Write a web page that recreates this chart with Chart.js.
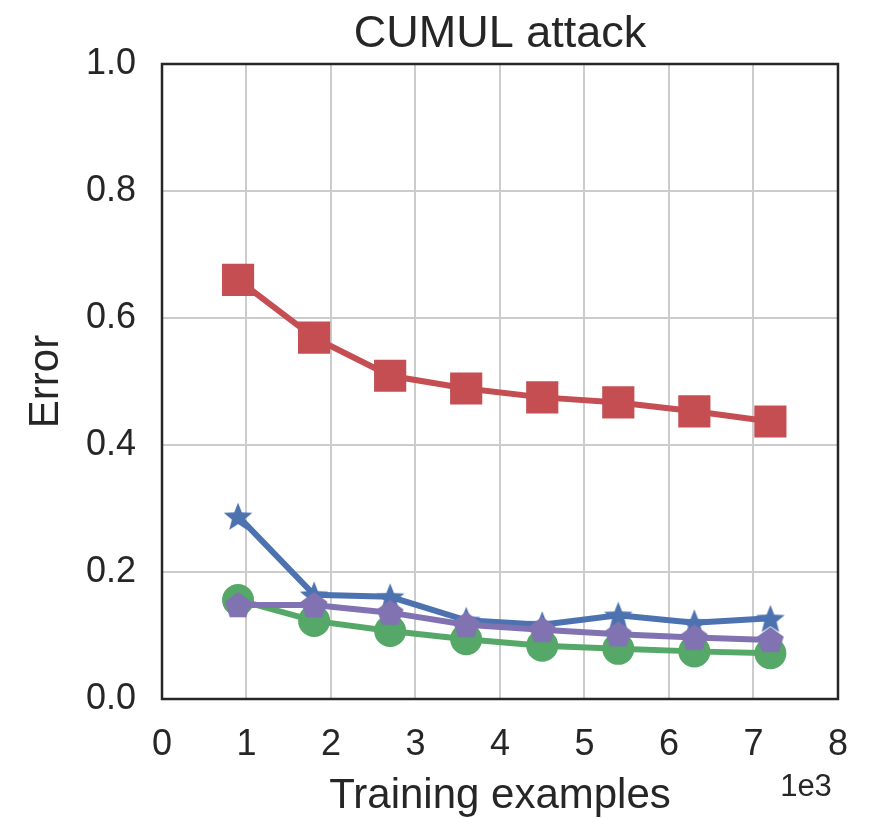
<!DOCTYPE html>
<html lang="en">
<head>
    <meta charset="UTF-8">
    <title>CUMUL attack</title>
    <script src="https://cdn.jsdelivr.net/npm/chart.js"></script>
    <style>
        body { margin: 0; background: #fff; }
        #wrap { width: 872px; height: 818px; }
    </style>
</head>
<body>
    <div id="wrap"><canvas id="myChart" width="872" height="818"></canvas></div>

    <script>
        // training examples, in thousands (axis shows 1e3)
        const trainingSizes = [0.9, 1.8, 2.7, 3.6, 4.5, 5.4, 6.3, 7.2];
        const redErrors    = [0.660, 0.569, 0.509, 0.489, 0.475, 0.467, 0.453, 0.437];
        const blueErrors   = [0.288, 0.164, 0.161, 0.124, 0.117, 0.132, 0.120, 0.127];
        const purpleErrors = [0.148, 0.148, 0.136, 0.117, 0.109, 0.102, 0.097, 0.093];
        const greenErrors  = [0.156, 0.123, 0.107, 0.094, 0.084, 0.079, 0.075, 0.072];
        const xTicks = [0, 1, 2, 3, 4, 5, 6, 7, 8];
        const yTicks = [0.0, 0.2, 0.4, 0.6, 0.8, 1.0];

        const FONT = "'Liberation Sans', Arial, sans-serif";
        const LINE_W = 6;

        function toPoints(values) {
            return values.map((v, i) => ({ x: trainingSizes[i], y: v }));
        }

        // filled marker images (chart.js star is only an outline)
        function polygonMarker(color, n, outer, inner) {
            const size = Math.ceil(outer * 2 + 4);
            const c = document.createElement('canvas');
            c.width = size; c.height = size;
            const g = c.getContext('2d');
            const cx = size / 2, cy = size / 2;
            const steps = inner ? n * 2 : n;
            g.beginPath();
            for (let i = 0; i < steps; i++) {
                const r = inner ? (i % 2 === 0 ? outer : inner) : outer;
                const a = -Math.PI / 2 + i * 2 * Math.PI / steps;
                const px = cx + r * Math.cos(a), py = cy + r * Math.sin(a) + (inner ? 1.5 : 1);
                if (i === 0) g.moveTo(px, py); else g.lineTo(px, py);
            }
            g.closePath();
            g.fillStyle = color;
            g.fill();
            return c;
        }

        const RED = '#c44e52', BLUE = '#4c72b0', GREEN = '#55a868', PURPLE = '#8172b2';
        const starImg = polygonMarker(BLUE, 5, 15, 6.5);
        const pentImg = polygonMarker(PURPLE, 5, 14, 0);

        const frame = {
            id: 'frame',
            afterDraw(chart) {
                const { ctx, chartArea: a } = chart;
                ctx.save();
                ctx.strokeStyle = '#262626';
                ctx.lineWidth = 2.5;
                ctx.strokeRect(a.left, a.top, a.right - a.left, a.bottom - a.top);
                ctx.fillStyle = '#262626';
                ctx.textAlign = 'center';
                ctx.textBaseline = 'middle';
                ctx.font = '45px ' + FONT;
                ctx.fillText('CUMUL attack', (a.left + a.right) / 2, 35);
                ctx.font = '31px ' + FONT;
                ctx.fillText('1e3', 806, 787);
                ctx.restore();
            }
        };

        const ctx = document.getElementById('myChart').getContext('2d');
        const myChart = new Chart(ctx, {
            type: 'line',
            data: {
                datasets: [
                    { data: toPoints(purpleErrors), borderColor: PURPLE, borderWidth: LINE_W, pointStyle: pentImg },
                    { data: toPoints(redErrors), borderColor: RED, backgroundColor: RED, borderWidth: LINE_W, pointStyle: 'rect', pointRadius: 18.5 },
                    { data: toPoints(blueErrors), borderColor: BLUE, borderWidth: LINE_W, pointStyle: starImg },
                    { data: toPoints(greenErrors), borderColor: GREEN, backgroundColor: GREEN, borderWidth: LINE_W, pointStyle: 'circle', pointRadius: 13 }
                ]
            },
            plugins: [frame],
            options: {
                responsive: false,
                animation: false,
                layout: { padding: { left: 0, right: 34, top: 64, bottom: 0 } },
                elements: {
                    line: { tension: 0 },
                    point: { borderWidth: 0, radius: 12 }
                },
                plugins: { legend: { display: false }, tooltip: { enabled: false } },
                scales: {
                    x: {
                        type: 'linear',
                        min: 0, max: 8,
                        afterBuildTicks: s => { s.ticks = xTicks.map(v => ({ value: v })); },
                        afterFit: s => { s.height = 119; },
                        grid: { color: '#cccccc', lineWidth: 2, drawTicks: false },
                        border: { display: false },
                        ticks: { color: '#262626', font: { family: FONT, size: 36 }, padding: 24, maxRotation: 0 },
                        title: { display: true, text: 'Training examples', color: '#262626', font: { family: FONT, size: 42 }, padding: { top: 0, bottom: -4 } }
                    },
                    y: {
                        min: 0, max: 1,
                        afterBuildTicks: s => { s.ticks = yTicks.map(v => ({ value: v })); },
                        afterFit: s => { s.width = 162; },
                        grid: { color: '#cccccc', lineWidth: 2, drawTicks: false },
                        border: { display: false },
                        ticks: { color: '#262626', font: { family: FONT, size: 36 }, padding: 26, callback: v => v.toFixed(1) },
                        title: { display: true, text: 'Error', color: '#262626', font: { family: FONT, size: 42 }, padding: { top: 21, bottom: 0 } }
                    }
                }
            }
        });
    </script>
</body>
</html>
